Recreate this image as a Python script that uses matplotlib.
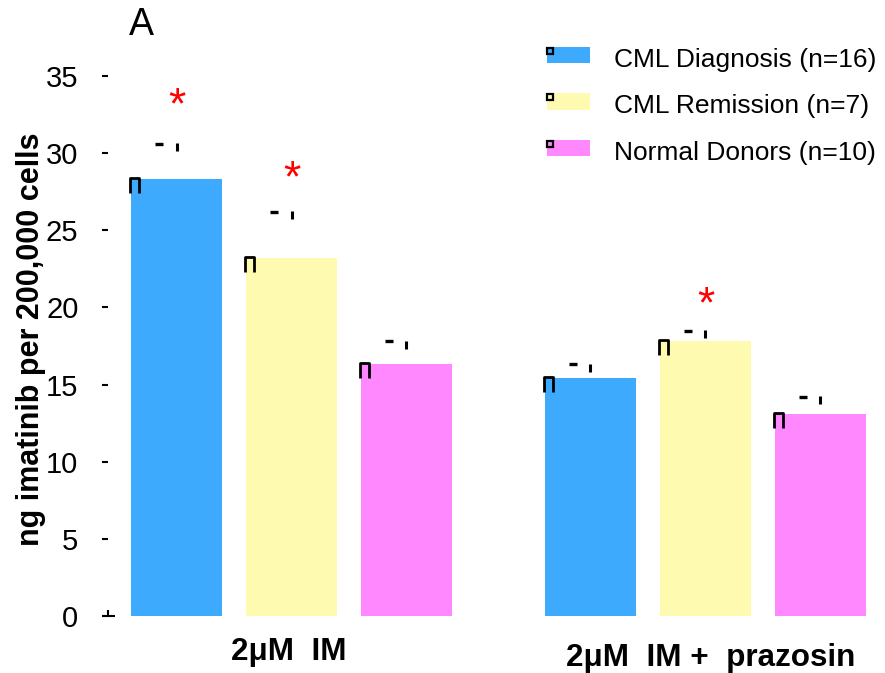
import matplotlib
matplotlib.use('Agg')
import matplotlib.pyplot as plt
from matplotlib.path import Path
from matplotlib.patches import Rectangle
import matplotlib.transforms as mtrans
import numpy as np

plt.rcParams['font.family'] = ['Liberation Sans', 'DejaVu Sans']

# ---- data ----
groups = ['2μM  IM', '2μM  IM +  prazosin']
series = ['CML Diagnosis (n=16)', 'CML Remission (n=7)', 'Normal Donors (n=10)']
means_im = [28.3, 23.2, 16.3]
means_praz = [15.4, 17.8, 13.1]
errtop_im = [30.6, 26.2, 17.8]
errtop_praz = [16.3, 18.5, 14.2]
star_level_im = [33.6, 28.9, None]
star_level_praz = [None, 20.7, None]
yticks = [0, 5, 10, 15, 20, 25, 30, 35]
panel_letter = 'A'
ylabel = 'ng imatinib per 200,000 cells'

colors = ['#3DAAFD', '#FEFBB0', '#FF88FF']

W, H = 885, 673
fig = plt.figure(figsize=(W / 100, H / 100), dpi=100)

# axes placement (pixels)
ax_left, ax_right = 108, 870
y0_px, px_per_unit = 616, 15.43
ymax = 38
ax = fig.add_axes([ax_left / W, (H - y0_px) / H,
                   (ax_right - ax_left) / W, ymax * px_per_unit / H])

group_start = [0.0, 3.6]
width = 0.79
step_px = 115.0
x_first_px = 176.5
ax.set_xlim((ax_left - x_first_px) / step_px, (ax_right - x_first_px) / step_px)
ax.set_ylim(0, ymax)

means = [means_im, means_praz]
errs = [errtop_im, errtop_praz]
stars = [star_level_im, star_level_praz]

cap_path = Path([(0, -1), (0, 0), (0.6, 0), (0.6, -1)],
                [Path.MOVETO, Path.LINETO, Path.LINETO, Path.LINETO])

for g in range(2):
    xs = group_start[g] + np.arange(3)
    for i in range(3):
        x = xs[i]
        v = means[g][i]
        e = errs[g][i]
        ax.bar(x, v, width=width, color=colors[i], linewidth=0, zorder=2)
        # corner mark
        ax.plot(x - width / 2 - 0.01, v + 0.07, marker=cap_path, markersize=21.6,
                markerfacecolor='none', markeredgecolor='black',
                markeredgewidth=2.0, linestyle='none', zorder=3, clip_on=False)
        # error fragments
        ax.plot(x - 0.155, e, marker='_', markersize=6, markeredgewidth=2.4,
                color='black', linestyle='none', zorder=3)
        ax.plot(x, e - 0.22, marker='|', markersize=5.5, markeredgewidth=2.2,
                color='black', linestyle='none', zorder=3)
        s = stars[g][i]
        if s is not None:
            ax.annotate('*', xy=(x, s), xytext=(0, -6.8), textcoords='offset points',
                        color='red', fontsize=32, ha='center', va='center', zorder=4)

for sp in ax.spines.values():
    sp.set_visible(False)
ax.set_xticks([])
ax.set_yticks(yticks)
ax.set_yticklabels([str(t) for t in yticks])
ax.tick_params(axis='y', direction='out', length=4.3, width=1.5, pad=17,
               labelsize=21, colors='black')

# zero-line stub at axis origin
stub = Path([(-6, 0), (7, 0), (0, 0), (0, 6)],
            [Path.MOVETO, Path.LINETO, Path.MOVETO, Path.LINETO])
ax.plot(ax.get_xlim()[0], 0, marker=stub, markersize=10.1, markeredgewidth=1.5,
        color='black', linestyle='none', clip_on=False, zorder=3)

# group labels
label_y_px = [660, 666]
label_x_shift_px = [-3, 5]
blend = mtrans.blended_transform_factory(ax.transData, fig.transFigure)
for g in range(2):
    xc = group_start[g] + 1 + label_x_shift_px[g] / step_px
    ax.text(xc, (H - label_y_px[g]) / H, groups[g], fontsize=22.6, fontweight='bold',
            ha='center', va='baseline', transform=blend)

# y label
fig.text(31 / W, 1 - 339.5 / H, ylabel, rotation=90, fontsize=22, fontweight='bold',
         ha='center', va='center')

# panel letter
fig.text(129 / W, 1 - 35 / H, panel_letter, fontsize=27, ha='left', va='baseline')

# legend (manual)
for i, name in enumerate(series):
    top = 47 + 46.5 * i
    fig.patches.append(Rectangle((547 / W, 1 - (top + 16) / H), 43 / W, 16 / H,
                                 transform=fig.transFigure, facecolor=colors[i],
                                 edgecolor='none', figure=fig))
    fig.patches.append(Rectangle((546.5 / W, 1 - (top + 6.5) / H), 6 / W, 6 / H,
                                 transform=fig.transFigure, facecolor='none',
                                 edgecolor='black', linewidth=1.6, figure=fig))
    fig.text(614 / W, 1 - (top + 20) / H, name, fontsize=19, ha='left', va='baseline')

fig.savefig('out.png', dpi=100)
